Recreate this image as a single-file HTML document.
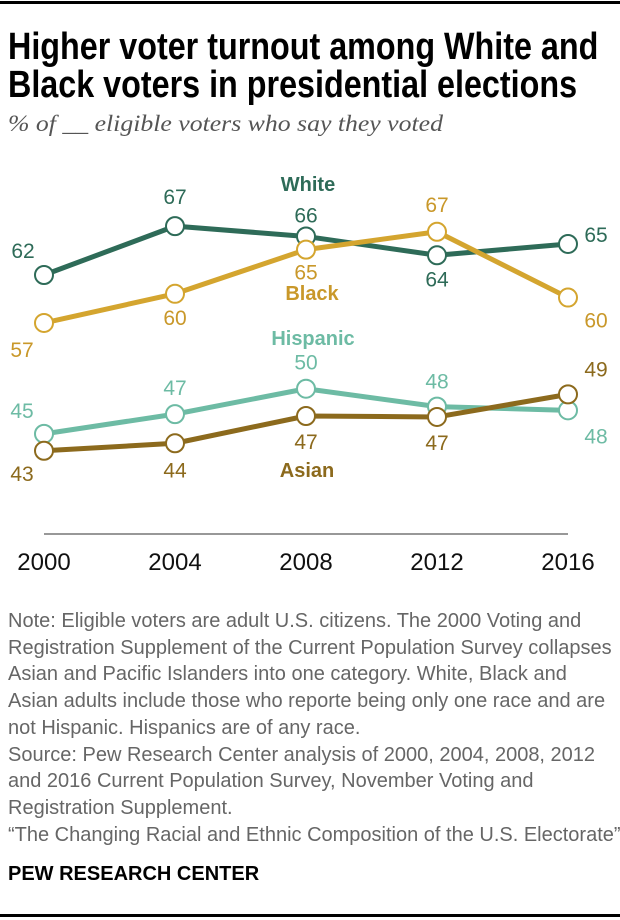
<!DOCTYPE html>
<html><head><meta charset="utf-8"><style>
body{margin:0;background:#fff;width:620px;height:920px;overflow:hidden;font-family:"Liberation Sans",sans-serif;position:relative}
.rule{position:absolute;left:0;width:620px;height:3px;background:#000}
.t{position:absolute;left:8px;top:28px;font-weight:bold;font-size:38px;line-height:38px;color:#000;transform:scaleX(0.85);transform-origin:left top;white-space:nowrap}
.s{position:absolute;left:8px;top:111px;font-family:"Liberation Serif",serif;font-style:italic;font-size:23px;color:#555;transform:scaleX(1.12);transform-origin:left top;white-space:nowrap}
.n{position:absolute;left:8px;top:608px;font-size:20px;line-height:26.7px;color:#666;width:615px;white-space:nowrap}
.f{position:absolute;left:8px;top:863px;font-weight:bold;font-size:20px;color:#000}
svg{position:absolute;left:0;top:0}
</style></head><body>
<div class="rule" style="top:1px"></div>
<div class="t">Higher voter turnout among White and<br>Black voters in presidential elections</div>
<div class="s">% of __ eligible voters who say they voted</div>
<svg id="c" width="620" height="920"></svg>
<div class="n">Note: Eligible voters are adult U.S. citizens. The 2000 Voting and<br>Registration Supplement of the Current Population Survey collapses<br>Asian and Pacific Islanders into one category. White, Black and<br>Asian adults include those who reporte being only one race and are<br>not Hispanic. Hispanics are of any race.<br>Source: Pew Research Center analysis of 2000, 2004, 2008, 2012<br>and 2016 Current Population Survey, November Voting and<br>Registration Supplement.<br>“The Changing Racial and Ethnic Composition of the U.S. Electorate”</div>
<div class="f">PEW RESEARCH CENTER</div>
<div class="rule" style="top:914px"></div>
<script>
const years=["2000","2004","2008","2012","2016"];
const white=[62.0,67.2,66.1,64.1,65.3];
const black=[56.9,60.0,64.7,66.6,59.6];
const hispanic=[45.1,47.2,49.9,48.0,47.6];
const asian=[43.3,44.1,47.0,46.9,49.3];
const NS="http://www.w3.org/2000/svg";
const svg=document.getElementById('c');
const x=i=>44+i*131;
const y=v=>275-(v-62)*9.4;
function mk(t,a,p){const e=document.createElementNS(NS,t);for(const k in a)e.setAttribute(k,a[k]);(p||svg).appendChild(e);return e;}
const ax=mk('line',{x1:44,x2:568,y1:534,y2:534,stroke:'#777','stroke-width':1.5});


years.forEach((yr,i)=>{const t=mk('text',{x:x(i),y:570,'text-anchor':'middle','font-size':24,fill:'#111'});t.textContent=yr;

});
const series=[
{name:'white',vals:white,color:'#2e6b58',tc:'#2e6b58',lab:'White',lx:308,ly:191,off:[[-21,-17],[0,-22],[0,-14],[0,31],[28,-2]]},
{name:'black',vals:black,color:'#d4a52f',tc:'#c9982a',lab:'Black',lx:312,ly:300,off:[[-22,34],[0,31],[0,30],[0,-20],[28,30]]},
{name:'hispanic',vals:hispanic,color:'#6dbba4',tc:'#6dbba4',lab:'Hispanic',lx:313,ly:345,off:[[-22,-16],[0,-19],[0,-19],[0,-18],[28,33]]},
{name:'asian',vals:asian,color:'#8c6a1d',tc:'#8c6a1d',lab:'Asian',lx:307,ly:477,off:[[-22,30],[0,34],[0,33],[0,33],[28,-18]]}];
series.forEach(s=>{
 const g=mk('g',{});
 
 
 const pl=mk('polyline',{points:s.vals.map((v,i)=>x(i)+','+y(v)).join(' '),fill:'none',stroke:s.color,'stroke-width':5,'stroke-linejoin':'round'},g);
 
 
 s.vals.forEach((v,i)=>{
  const c=mk('circle',{cx:x(i),cy:y(v),r:9,fill:'#fff',stroke:s.color,'stroke-width':2},g);
  
  
  const t=mk('text',{x:x(i)+s.off[i][0],y:y(v)+s.off[i][1],'text-anchor':'middle','font-size':21,fill:s.tc},g);
  t.textContent=Math.round(v);
  
  
 });
 const l=mk('text',{x:s.lx,y:s.ly,'text-anchor':'middle','font-size':20,'font-weight':'bold',fill:s.tc},g);
 l.textContent=s.lab;
 
 
});
</script>
</body></html>
